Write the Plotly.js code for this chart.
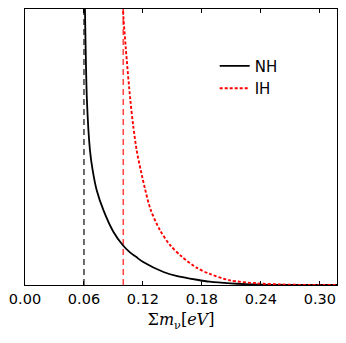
<!DOCTYPE html>
<html>
<head>
<meta charset="utf-8">
<script src="https://cdn.plot.ly/plotly-3.0.1.min.js"></script>
<style>
  html, body { margin: 0; padding: 0; background: white; }
  #graf { width: 346px; height: 343px; }
</style>
</head>
<body>
<div id="graf"></div>
<script>
// corba NH (jerarquia normal), llegida del dibuix
var nh_x = [0.0605, 0.061, 0.063, 0.0661, 0.0688, 0.0729, 0.0797, 0.0899, 0.0994, 0.1068, 0.113, 0.1203, 0.141, 0.154, 0.175, 0.188, 0.209, 0.24, 0.28, 0.32];
var nh_y = [1.1, 1.0, 0.67, 0.489, 0.417, 0.344, 0.272, 0.193, 0.145, 0.118, 0.102, 0.083, 0.047, 0.033, 0.019, 0.012, 0.006, 0.001, 0.0, 0.0];

// corba IH (jerarquia invertida)
var ih_x = [0.0995, 0.0997, 0.1025, 0.1072, 0.1102, 0.1136, 0.1177, 0.122, 0.1279, 0.1373, 0.1475, 0.1594, 0.175, 0.188, 0.2085, 0.236, 0.26, 0.29, 0.32];
var ih_y = [1.1, 1.0, 0.86, 0.67, 0.575, 0.489, 0.417, 0.35, 0.272, 0.199, 0.145, 0.103, 0.062, 0.04, 0.017, 0.006, 0.002, 0.0, 0.0];

// limits inferiors (linies verticals)
var limitNH = 0.06;
var limitIH = 0.10;

var ticsX = [0.00, 0.06, 0.12, 0.18, 0.24, 0.30];

var traces = [
    {x: [limitNH, limitNH], y: [0, 1], mode: 'lines', type: 'scatter', showlegend: false, hoverinfo: 'skip',
     line: {color: 'rgba(0,0,0,0.72)', width: 1.6, dash: '6px,4px'}},
    {x: [limitIH, limitIH], y: [0, 1], mode: 'lines', type: 'scatter', showlegend: false, hoverinfo: 'skip',
     line: {color: 'rgba(255,0,0,0.72)', width: 1.6, dash: '6px,4px'}},
    {x: nh_x, y: nh_y, mode: 'lines', type: 'scatter', name: 'NH', legendgroup: 'a',
     line: {color: 'black', width: 1.8, shape: 'spline', smoothing: 0.8}},
    {x: ih_x, y: ih_y, mode: 'lines', type: 'scatter', name: 'IH', legendgroup: 'b',
     line: {color: 'red', width: 1.9, dash: '3px,2px', shape: 'spline', smoothing: 0.8}}
];

var layout = {
    width: 346,
    height: 343,
    margin: {l: 25, r: 9, t: 9, b: 58},
    paper_bgcolor: 'white',
    plot_bgcolor: 'white',
    font: {family: 'DejaVu Sans', size: 13, color: 'black'},
    showlegend: true,
    legend: {x: 0.608, y: 0.853, xanchor: 'left', yanchor: 'top', bgcolor: 'rgba(0,0,0,0)',
             font: {size: 15}, traceorder: 'grouped', tracegroupgap: 0},
    xaxis: {
        range: [0, 0.3175],
        tickvals: ticsX,
        tickformat: '.2f',
        ticks: 'inside', ticklen: 4, tickcolor: 'black',
        showline: true, linecolor: 'black', linewidth: 1.3, mirror: 'allticks',
        showgrid: false, zeroline: false,
        tickfont: {size: 14.5},
        title: {text: 'Σ<i>m</i><sub>ν</sub>[<i>eV</i>]', font: {family: 'DejaVu Serif', size: 16}, standoff: 8}
    },
    yaxis: {
        range: [0, 1],
        showticklabels: false, ticks: '',
        showline: true, linecolor: 'black', linewidth: 1.3, mirror: true,
        showgrid: false, zeroline: false
    }
};

Plotly.newPlot('graf', traces, layout, {staticPlot: true});
</script>
</body>
</html>
